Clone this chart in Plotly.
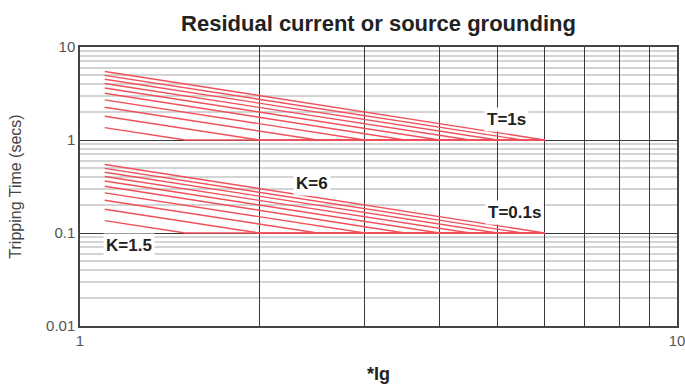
import math
import plotly.graph_objects as go

# Data
k_values = [1.5, 2.0, 2.5, 3.0, 3.5, 4.0, 4.5, 5.0, 5.5, 6.0]
start_current = 1.1
end_current = 6.0
upper_start = [1.36, 1.80, 2.25, 2.70, 3.18, 3.62, 4.05, 4.50, 4.95, 5.45]
lower_start = [0.136, 0.180, 0.225, 0.270, 0.318, 0.362, 0.405, 0.450, 0.495, 0.545]
families = [(1.0, upper_start), (0.1, lower_start)]

x_ticks = [1, 2, 3, 4, 5, 6, 7, 8, 9, 10]
x_ticktext = ["1", "", "", "", "", "", "", "", "", "10"]
y_ticks = [0.01, 0.1, 1, 10]
y_ticktext = ["0.01", "0.1", "1", "10"]
y_minor = [m * d for d in [0.01, 0.1, 1] for m in range(2, 10)]

RED = "#f0505a"

fig = go.Figure()
for T, starts in families:
    for k, s in zip(k_values, starts):
        fig.add_trace(go.Scatter(
            x=[start_current, k, end_current], y=[s, T, T],
            mode="lines", line=dict(color=RED, width=1.4),
            showlegend=False, hoverinfo="skip"))

label_font = dict(family="Liberation Sans, Arial, sans-serif", size=17, color="#222")
labels = [("T=1s", 5.18, 1.65), ("T=0.1s", 5.35, 0.165), ("K=6", 2.45, 0.34), ("K=1.5", 1.21, 0.0734)]
for text, lx, ly in labels:
    fig.add_annotation(x=math.log10(lx), y=math.log10(ly), text="<b>%s</b>" % text,
                       showarrow=False, font=label_font, bgcolor="white",
                       borderpad=2)

fig.update_layout(
    width=685, height=391,
    margin=dict(l=80, r=8, t=47, b=65),
    paper_bgcolor="white", plot_bgcolor="white",
    title=dict(text="<b>Residual current or source grounding</b>",
               x=(80 + 677) / 2 / 685, xanchor="center", y=1 - 23 / 391, yanchor="middle",
               font=dict(family="Liberation Sans, Arial, sans-serif", size=22, color="#222")),
    xaxis=dict(type="log", range=[0, 1], tickmode="array", tickvals=x_ticks, ticktext=x_ticktext,
               showgrid=True, gridcolor="#3a3a3a", gridwidth=1.3, automargin=False,
               ticklabeloverflow="allow",
               showline=True, linecolor="#444", linewidth=1.5, mirror=True,
               ticks="", zeroline=False,
               tickfont=dict(family="Liberation Sans, Arial, sans-serif", size=15, color="#555"),
               title=dict(text="<b>*Ig</b>", standoff=20,
                          font=dict(family="Liberation Sans, Arial, sans-serif", size=18, color="#222"))),
    yaxis=dict(type="log", range=[-2, 1], tickmode="array", tickvals=y_ticks, ticktext=y_ticktext,
               showgrid=True, gridcolor="#3a3a3a", gridwidth=1.3, automargin=False,
               ticklabeloverflow="allow",
               showline=True, linecolor="#444", linewidth=1.5, mirror=True,
               ticks="", zeroline=False,
               minor=dict(tickmode="array", tickvals=y_minor, showgrid=True,
                          gridcolor="#d4d4d4", gridwidth=2, ticks=""),
               tickfont=dict(family="Liberation Sans, Arial, sans-serif", size=15, color="#555"),
               title=dict(text="Tripping Time (secs)", standoff=20,
                          font=dict(family="Liberation Sans, Arial, sans-serif", size=16, color="#444"))),
)

fig.write_html("out.html")
